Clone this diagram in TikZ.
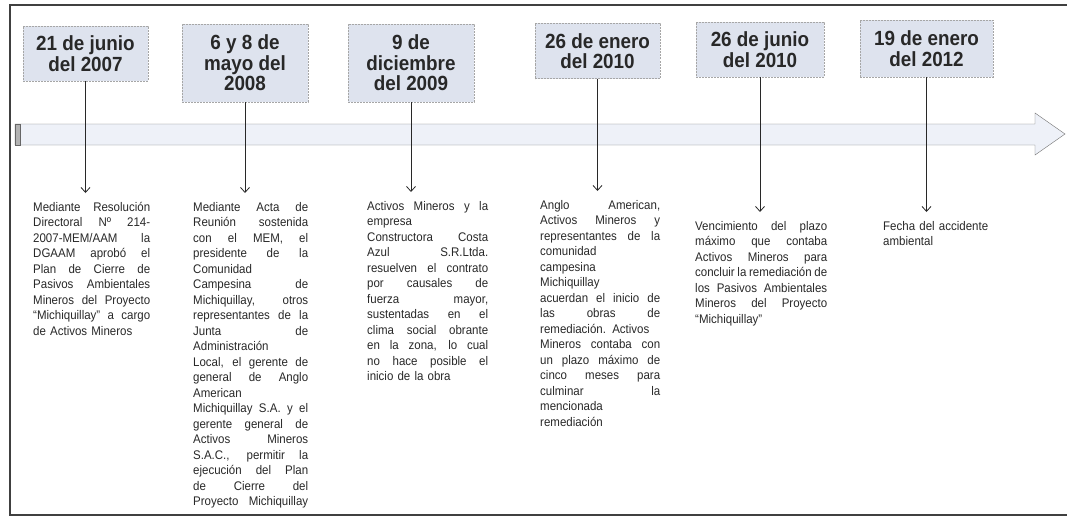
\documentclass[tikz,border=0pt]{standalone}
\usepackage{fontspec}
\usetikzlibrary{arrows.meta}
\newfontfamily\datefont[FakeStretch=0.92]{Liberation Sans}
\newfontfamily\bodyfont[FakeStretch=0.92]{Liberation Sans}
\definecolor{boxfill}{RGB}{222,227,238}
\definecolor{barfill}{RGB}{238,241,248}
\definecolor{ink}{RGB}{40,40,40}
\newlength{\colw}
\newcommand{\jl}[1]{\leavevmode\hbox to \colw{\spaceskip=3pt plus 20pt minus 1.5pt #1}}

\begin{document}
\begin{tikzpicture}[x=1pt,y=-1pt,
    fecha/.style={draw=black!35, dash pattern=on 2pt off 1pt, fill=boxfill, align=center,
        font=\datefont\bfseries\fontsize{20.5}{20.5}\selectfont, text=ink, inner sep=0pt},
    texto/.style={anchor=north west, align=left, inner sep=0pt, text width=#1,
        font=\bodyfont\fontsize{12.5}{15.5}\selectfont\setlength{\colw}{#1 pt}, text=ink},
    conn/.style={draw=ink, thick, -{Straight Barb[length=5pt,width=9pt]}, shorten >=9pt}]
    \useasboundingbox (0,0) rectangle (1067,519);

    % marco
    \draw[black!75, line width=1.6pt] (1067,5) -- (10,5) -- (10,515) -- (1067,515);

    % flecha del tiempo
    \draw[black!55, fill=barfill] (15,124) -- (1035,124) -- (1035,113) -- (1065,134)
        -- (1035,155) -- (1035,145) -- (15,145) -- cycle;
    \draw[black!60, fill=black!30] (15,124) rectangle (20,145);

    % fechas
    \node[fecha, minimum width=125, minimum height=55] (d1) at (85.5,53.5) {21 de junio\\del 2007};
    \node[fecha, minimum width=126, minimum height=78] (d2) at (245,63) {6 y 8 de\\mayo del\\2008};
    \node[fecha, minimum width=126, minimum height=78] (d3) at (411,63) {9 de\\diciembre\\del 2009};
    \node[fecha, minimum width=125, minimum height=55] (d4) at (597.5,51) {26 de enero\\del 2010};
    \node[fecha, minimum width=128, minimum height=55] (d5) at (760,49.5) {26 de junio\\del 2010};
    \node[fecha, minimum width=133, minimum height=57] (d6) at (926.5,48.5) {19 de enero\\del 2012};

    % textos
    \node[texto=117] (t1) at (33,202) {%
        \jl{Mediante Resolución}\\
        \jl{Directoral Nº 214-}\\
        \jl{2007-MEM/AAM la}\\
        \jl{DGAAM aprobó el}\\
        \jl{Plan de Cierre de}\\
        \jl{Pasivos Ambientales}\\
        \jl{Mineros del Proyecto}\\
        \jl{“Michiquillay” a cargo}\\
        de Activos Mineros};
    \node[texto=115] (t2) at (193,202) {%
        \jl{Mediante Acta de}\\
        \jl{Reunión sostenida}\\
        \jl{con el MEM, el}\\
        \jl{presidente de la}\\
        Comunidad\\
        \jl{Campesina de}\\
        \jl{Michiquillay, otros}\\
        \jl{representantes de la}\\
        \jl{Junta de}\\
        Administración\\
        \jl{Local, el gerente de}\\
        \jl{general de Anglo}\\
        American\\
        \jl{Michiquillay S.A. y el}\\
        \jl{gerente general de}\\
        \jl{Activos Mineros}\\
        \jl{S.A.C., permitir la}\\
        \jl{ejecución del Plan}\\
        \jl{de Cierre del}\\
        \jl{Proyecto Michiquillay}};
    \node[texto=121] (t3) at (367,201) {%
        \jl{Activos Mineros y la}\\
        empresa\\
        \jl{Constructora Costa}\\
        \jl{Azul S.R.Ltda.}\\
        \jl{resuelven el contrato}\\
        \jl{por causales de}\\
        \jl{fuerza mayor,}\\
        \jl{sustentadas en el}\\
        \jl{clima social obrante}\\
        \jl{en la zona, lo cual}\\
        \jl{no hace posible el}\\
        inicio de la obra};
    \node[texto=120] (t4) at (540,200) {%
        \jl{Anglo American,}\\
        \jl{Activos Mineros y}\\
        \jl{representantes de la}\\
        comunidad\\
        campesina\\
        Michiquillay\\
        \jl{acuerdan el inicio de}\\
        \jl{las obras de}\\
        \jl{remediación. Activos}\\
        \jl{Mineros contaba con}\\
        \jl{un plazo máximo de}\\
        \jl{cinco meses para}\\
        \jl{culminar la}\\
        mencionada\\
        remediación};
    \node[texto=132] (t5) at (695,221) {%
        \jl{Vencimiento del plazo}\\
        \jl{máximo que contaba}\\
        \jl{Activos Mineros para}\\
        \jl{concluir la remediación de}\\
        \jl{los Pasivos Ambientales}\\
        \jl{Mineros del Proyecto}\\
        “Michiquillay”};
    \node[texto=105] (t6) at (883,221) {%
        \jl{Fecha del accidente}\\
        ambiental};

    % conectores
    \draw[conn] (d1.south) -- (d1.south |- t1.north);
    \draw[conn] (d2.south) -- (d2.south |- t2.north);
    \draw[conn] (d3.south) -- (d3.south |- t3.north);
    \draw[conn] (d4.south) -- (d4.south |- t4.north);
    \draw[conn] (d5.south) -- (d5.south |- t5.north);
    \draw[conn] (d6.south) -- (d6.south |- t6.north);

\end{tikzpicture}
\end{document}
